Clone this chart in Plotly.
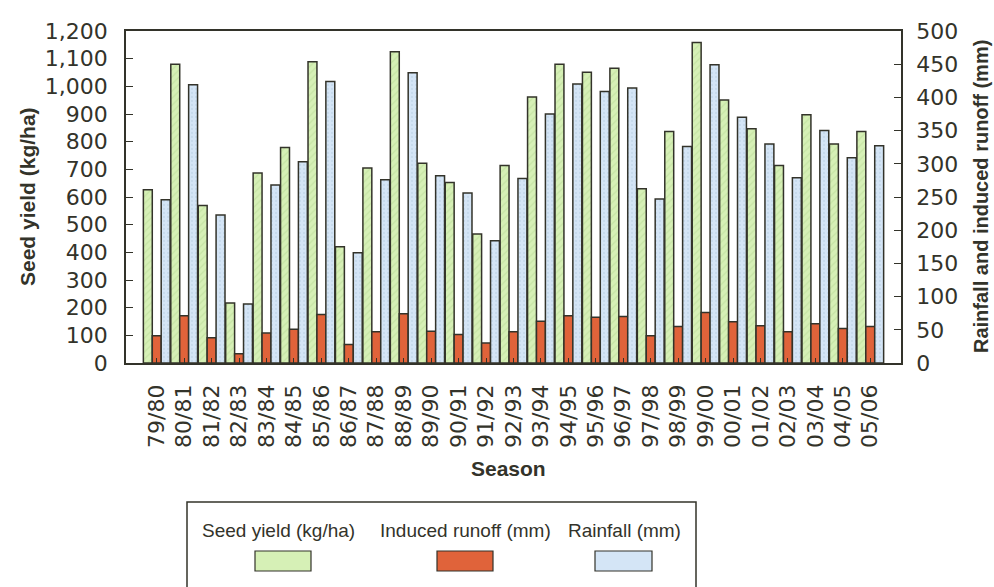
import plotly.graph_objects as go

seasons = ["79/80", "80/81", "81/82", "82/83", "83/84", "84/85", "85/86", "86/87", "87/88",
           "88/89", "89/90", "90/91", "91/92", "92/93", "93/94", "94/95", "95/96", "96/97",
           "97/98", "98/99", "99/00", "00/01", "01/02", "02/03", "03/04", "04/05", "05/06"]
seed_yield = [626, 1080, 569, 217, 687, 779, 1089, 420, 705, 1125, 722, 652, 466, 714, 961,
              1080, 1051, 1065, 630, 837, 1158, 951, 847, 714, 897, 792, 837]
runoff = [41, 71, 38, 14, 45, 51, 73, 28, 47, 74, 48, 43, 30, 47, 63, 71, 69, 70, 41, 55,
          76, 62, 56, 47, 59, 52, 55]
rainfall = [246, 419, 223, 89, 268, 303, 424, 166, 276, 437, 282, 256, 184, 278, 375, 420,
            409, 414, 247, 326, 449, 370, 330, 279, 350, 309, 327]
y1_ticks = list(range(0, 1201, 100))
y2_ticks = list(range(0, 501, 50))

INK = "#33332a"
GREEN = "#d6f0b6"
ORANGE = "#e0633a"
BLUE = "#d4e5f6"
W = 0.325
TICKFONT = dict(family="DejaVu Sans", size=22, color=INK)
TITLEFONT = dict(family="Liberation Sans", size=21, color=INK)

fig = go.Figure()
fig.add_trace(go.Bar(
    x=seasons, y=seed_yield, name="Seed yield (kg/ha)", yaxis="y",
    width=W, offset=-1.5 * W,
    marker=dict(color=GREEN, line=dict(color=INK, width=1.5),
                pattern=dict(shape="/", fillmode="overlay", fgcolor="#b5d894",
                             size=5, solidity=0.25)),
))
fig.add_trace(go.Bar(
    x=seasons, y=runoff, name="Induced runoff (mm)", yaxis="y2",
    width=W, offset=-0.5 * W,
    marker=dict(color=ORANGE, line=dict(color=INK, width=1.5)),
))
fig.add_trace(go.Bar(
    x=seasons, y=rainfall, name="Rainfall (mm)", yaxis="y2",
    width=W, offset=0.5 * W,
    marker=dict(color=BLUE, line=dict(color=INK, width=1.5),
                pattern=dict(shape=".", fillmode="overlay", fgcolor="#b8cde2",
                             size=4, solidity=0.25)),
))

fig.update_layout(
    width=994, height=587,
    margin=dict(l=126, r=93, t=31, b=224),
    paper_bgcolor="white", plot_bgcolor="white",
    barmode="overlay", showlegend=False,
    font=dict(family="Liberation Sans", color=INK),
    xaxis=dict(
        type="category", range=[-1.12, 27.12],
        showline=True, linecolor=INK, linewidth=1.5, mirror=True,
        ticks="inside", ticklen=5, tickcolor=INK, tickwidth=1,
        tickangle=-90, tickfont=TICKFONT, ticklabelstandoff=11,
        showgrid=False, zeroline=False,
    ),
    yaxis=dict(
        range=[0, 1200], tickvals=y1_ticks, tickformat=",",
        showline=True, linecolor=INK, linewidth=1.5,
        ticks="inside", ticklen=7, tickcolor=INK, tickwidth=1,
        tickfont=TICKFONT, ticklabelstandoff=12,
        showgrid=False, zeroline=False,
    ),
    yaxis2=dict(
        range=[0, 500], tickvals=y2_ticks, overlaying="y", side="right",
        showline=True, linecolor=INK, linewidth=1.5,
        ticks="inside", ticklen=7, tickcolor=INK, tickwidth=1,
        tickfont=TICKFONT, ticklabelstandoff=9,
        showgrid=False, zeroline=False,
    ),
)

# axis titles
fig.add_annotation(text="<b>Seed yield (kg/ha)</b>", xref="paper", yref="paper",
                   x=(27 - 126) / 775, y=0.5, xanchor="center", yanchor="middle",
                   textangle=-90, showarrow=False, font=TITLEFONT)
fig.add_annotation(text="<b>Rainfall and induced runoff (mm)</b>", xref="paper", yref="paper",
                   x=(981 - 126) / 775, y=0.5, xanchor="center", yanchor="middle",
                   textangle=-90, showarrow=False,
                   font=dict(family="Liberation Sans", size=20, color=INK))
fig.add_annotation(text="<b>Season</b>", xref="paper", yref="paper",
                   x=(508 - 126) / 775, y=(363 - 468) / 332, xanchor="center", yanchor="middle",
                   showarrow=False, font=TITLEFONT)

# custom legend (text above swatches)
def px_x(p):
    return (p - 126) / 775

def px_y(p):
    return (363 - p) / 332

fig.add_shape(type="rect", xref="paper", yref="paper",
              x0=px_x(187), x1=px_x(696), y0=px_y(502), y1=px_y(600),
              line=dict(color=INK, width=1.5), fillcolor="rgba(0,0,0,0)")
legend_items = [
    ("Seed yield (kg/ha)", GREEN, 278, 255, 311),
    ("Induced runoff (mm)", ORANGE, 465, 437, 493),
    ("Rainfall (mm)", BLUE, 624.5, 595, 652),
]
for label, col, cx, sx0, sx1 in legend_items:
    fig.add_annotation(text=label, xref="paper", yref="paper",
                       x=px_x(cx), y=px_y(530), xanchor="center", yanchor="middle",
                       showarrow=False, font=dict(family="Liberation Sans", size=19, color=INK))
    fig.add_shape(type="rect", xref="paper", yref="paper",
                  x0=px_x(sx0), x1=px_x(sx1), y0=px_y(551), y1=px_y(571),
                  line=dict(color=INK, width=1.2), fillcolor=col)

fig.write_html("out.html")
